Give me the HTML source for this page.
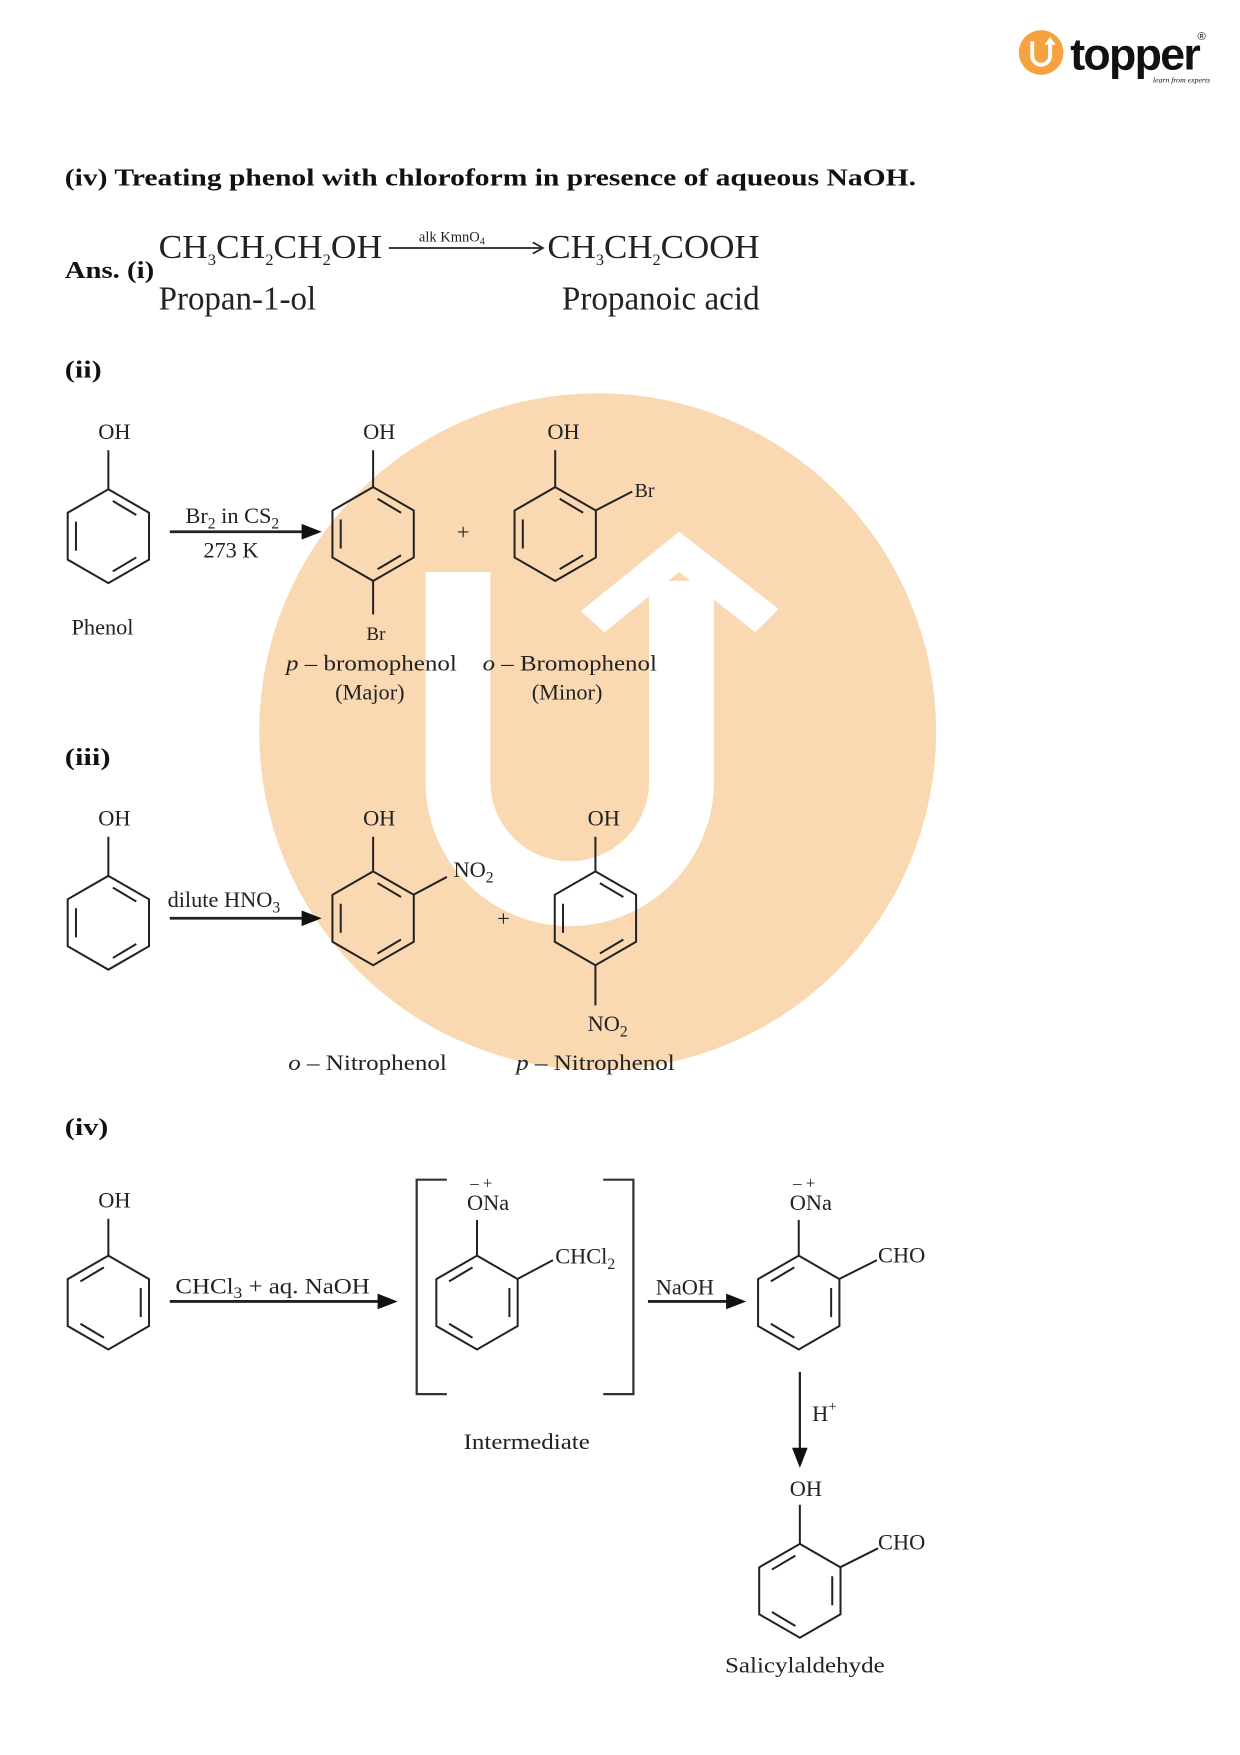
<!DOCTYPE html>
<html><head><meta charset="utf-8"><style>
html,body{margin:0;padding:0;background:#fff}
svg{display:block}
text{font-family:"Liberation Serif",serif;fill:#222}
.h{font-weight:bold;font-size:22px;fill:#111}
.c{font-size:20px}
.e{font-size:30px}
</style></head><body>
<svg width="1240" height="1755" viewBox="0 0 1110 1571" xmlns="http://www.w3.org/2000/svg">
<defs>
<g id="ra" fill="none" stroke="#222" stroke-width="1.8">
<polygon points="0,-42 36.4,-21 36.4,21 0,42 -36.4,21 -36.4,-21"/>
<line x1="4" y1="-31.5" x2="25" y2="-19"/>
<line x1="-29" y1="-13" x2="-29" y2="13"/>
<line x1="4" y1="31.5" x2="25" y2="19"/>
</g>
<g id="rb" fill="none" stroke="#222" stroke-width="1.8">
<polygon points="0,-42 36.4,-21 36.4,21 0,42 -36.4,21 -36.4,-21"/>
<line x1="-4" y1="-31.5" x2="-25" y2="-19"/>
<line x1="29" y1="-13" x2="29" y2="13"/>
<line x1="-4" y1="31.5" x2="-25" y2="19"/>
</g>
</defs>

<!-- watermark -->
<circle cx="535" cy="655" r="303" fill="#fad9b2"/>
<path d="M410 512 V700 A100 100 0 0 0 610 700 V520" fill="none" stroke="#fff" stroke-width="58"/>
<polygon points="608,476 697,545 676,566 608,512 541,566 520,547" fill="#fff"/>

<!-- logo -->
<circle cx="932" cy="47" r="20" fill="#f4a340"/>
<path d="M924 37 V50 A8 8 0 0 0 940 50 V40" fill="none" stroke="#fff" stroke-width="3.5"/>
<polygon points="940,33 945,40 935,40" fill="#fff"/>
<text x="958" y="62" style="font-family:'Liberation Sans',sans-serif;font-weight:bold;font-size:40px;fill:#111;letter-spacing:-1.5px">topper</text>
<text x="1072" y="36" style="font-family:'Liberation Sans',sans-serif;font-size:10px;fill:#111">®</text>
<text x="1032" y="74" style="font-size:7px;font-style:italic;fill:#111">learn from experts</text>

<!-- headings -->
<text class="h" x="58" y="166" textLength="762" lengthAdjust="spacingAndGlyphs">(iv) Treating phenol with chloroform in presence of aqueous NaOH.</text>
<text class="h" x="58" y="249" textLength="80" lengthAdjust="spacingAndGlyphs">Ans. (i)</text>
<text class="e" x="142" y="231" textLength="200" lengthAdjust="spacingAndGlyphs">CH<tspan font-size="14" dy="6">3</tspan><tspan dy="-6">CH</tspan><tspan font-size="14" dy="6">2</tspan><tspan dy="-6">CH</tspan><tspan font-size="14" dy="6">2</tspan><tspan dy="-6">OH</tspan></text>
<line x1="348" y1="222" x2="484" y2="222" stroke="#222" stroke-width="1.5"/>
<polyline points="477,217 486,222 477,227" fill="none" stroke="#222" stroke-width="1.5"/>
<text x="375" y="216" style="font-size:13px">alk KmnO<tspan font-size="9" dy="3">4</tspan></text>
<text class="e" x="490" y="231" textLength="190" lengthAdjust="spacingAndGlyphs">CH<tspan font-size="14" dy="6">3</tspan><tspan dy="-6">CH</tspan><tspan font-size="14" dy="6">2</tspan><tspan dy="-6">COOH</tspan></text>
<text class="e" x="142" y="277" textLength="141" lengthAdjust="spacingAndGlyphs">Propan-1-ol</text>
<text class="e" x="503" y="277" textLength="177" lengthAdjust="spacingAndGlyphs">Propanoic acid</text>

<text class="h" x="58" y="338" textLength="33" lengthAdjust="spacingAndGlyphs">(ii)</text>
<!-- (ii) -->
<use href="#ra" x="97" y="480"/>
<line x1="97" y1="438" x2="97" y2="403" stroke="#222" stroke-width="1.8"/>
<text class="c" x="88" y="393">OH</text>
<text class="c" x="64" y="568">Phenol</text>
<line x1="152" y1="476" x2="272" y2="476" stroke="#222" stroke-width="2.5"/>
<polygon points="270,469 288,476 270,483" fill="#111"/>
<text class="c" x="166" y="468">Br<tspan font-size="14" dy="5">2</tspan><tspan dy="-5"> in CS</tspan><tspan font-size="14" dy="5">2</tspan></text>
<text class="c" x="182" y="499">273 K</text>

<use href="#ra" x="334" y="478"/>
<line x1="334" y1="436" x2="334" y2="403" stroke="#222" stroke-width="1.8"/>
<text class="c" x="325" y="393">OH</text>
<line x1="334" y1="520" x2="334" y2="550" stroke="#222" stroke-width="1.8"/>
<text class="c" x="328" y="573" style="font-size:17px">Br</text>
<text class="c" x="256" y="600" textLength="153" lengthAdjust="spacingAndGlyphs"><tspan font-style="italic">p</tspan> – bromophenol</text>
<text class="c" x="300" y="626">(Major)</text>
<text class="c" x="409" y="483">+</text>

<use href="#ra" x="497" y="478"/>
<line x1="497" y1="436" x2="497" y2="403" stroke="#222" stroke-width="1.8"/>
<text class="c" x="490" y="393">OH</text>
<line x1="533" y1="457" x2="566" y2="440" stroke="#222" stroke-width="1.8"/>
<text class="c" x="568" y="445" style="font-size:18px">Br</text>
<text class="c" x="432" y="600" textLength="156" lengthAdjust="spacingAndGlyphs"><tspan font-style="italic">o</tspan> – Bromophenol</text>
<text class="c" x="476" y="626">(Minor)</text>

<text class="h" x="58" y="685" textLength="41" lengthAdjust="spacingAndGlyphs">(iii)</text>
<!-- (iii) -->
<use href="#ra" x="97" y="826"/>
<line x1="97" y1="784" x2="97" y2="749" stroke="#222" stroke-width="1.8"/>
<text class="c" x="88" y="739">OH</text>
<line x1="152" y1="822" x2="272" y2="822" stroke="#222" stroke-width="2.5"/>
<polygon points="270,815 288,822 270,829" fill="#111"/>
<text class="c" x="150" y="812">dilute HNO<tspan font-size="14" dy="5">3</tspan></text>

<use href="#rb" x="334" y="822" transform="translate(668 0) scale(-1 1)"/>
<line x1="334" y1="780" x2="334" y2="749" stroke="#222" stroke-width="1.8"/>
<text class="c" x="325" y="739">OH</text>
<line x1="370" y1="801" x2="400" y2="785" stroke="#222" stroke-width="1.8"/>
<text class="c" x="406" y="785">NO<tspan font-size="14" dy="5">2</tspan></text>
<text class="c" x="445" y="829">+</text>

<use href="#ra" x="533" y="822"/>
<line x1="533" y1="780" x2="533" y2="749" stroke="#222" stroke-width="1.8"/>
<text class="c" x="526" y="739">OH</text>
<line x1="533" y1="864" x2="533" y2="900" stroke="#222" stroke-width="1.8"/>
<text class="c" x="526" y="923">NO<tspan font-size="14" dy="5">2</tspan></text>
<text class="c" x="258" y="958" textLength="142" lengthAdjust="spacingAndGlyphs"><tspan font-style="italic">o</tspan> – Nitrophenol</text>
<text class="c" x="462" y="958" textLength="142" lengthAdjust="spacingAndGlyphs"><tspan font-style="italic">p</tspan> – Nitrophenol</text>

<text class="h" x="58" y="1016" textLength="39" lengthAdjust="spacingAndGlyphs">(iv)</text>
<!-- (iv) -->
<use href="#rb" x="97" y="1166"/>
<line x1="97" y1="1124" x2="97" y2="1091" stroke="#222" stroke-width="1.8"/>
<text class="c" x="88" y="1081">OH</text>
<line x1="152" y1="1165" x2="340" y2="1165" stroke="#222" stroke-width="2.5"/>
<polygon points="338,1158 356,1165 338,1172" fill="#111"/>
<text class="c" x="157" y="1158" textLength="174" lengthAdjust="spacingAndGlyphs">CHCl<tspan font-size="14" dy="4">3</tspan><tspan dy="-4"> + aq. NaOH</tspan></text>

<polyline points="400,1056 373,1056 373,1248 400,1248" fill="none" stroke="#333" stroke-width="2"/>
<polyline points="540,1056 567,1056 567,1248 540,1248" fill="none" stroke="#333" stroke-width="2"/>
<use href="#rb" x="427" y="1166"/>
<line x1="427" y1="1124" x2="427" y2="1092" stroke="#222" stroke-width="1.8"/>
<text class="c" x="418" y="1083">ONa</text>
<text class="c" x="421" y="1064" style="font-size:15px">– +</text>
<line x1="463" y1="1145" x2="495" y2="1128" stroke="#222" stroke-width="1.8"/>
<text class="c" x="497" y="1131">CHCl<tspan font-size="14" dy="5">2</tspan></text>
<text class="c" x="415" y="1297" textLength="113" lengthAdjust="spacingAndGlyphs">Intermediate</text>

<line x1="580" y1="1165" x2="652" y2="1165" stroke="#222" stroke-width="2.5"/>
<polygon points="650,1158 668,1165 650,1172" fill="#111"/>
<text class="c" x="587" y="1159">NaOH</text>

<use href="#rb" x="715" y="1166"/>
<line x1="715" y1="1124" x2="715" y2="1092" stroke="#222" stroke-width="1.8"/>
<text class="c" x="707" y="1083">ONa</text>
<text class="c" x="710" y="1064" style="font-size:15px">– +</text>
<line x1="751" y1="1145" x2="785" y2="1128" stroke="#222" stroke-width="1.8"/>
<text class="c" x="786" y="1130">CHO</text>

<line x1="716" y1="1228" x2="716" y2="1298" stroke="#222" stroke-width="2"/>
<polygon points="709,1296 716,1314 723,1296" fill="#111"/>
<text class="c" x="727" y="1272">H<tspan font-size="13" dy="-9">+</tspan></text>

<use href="#rb" x="716" y="1424"/>
<line x1="716" y1="1382" x2="716" y2="1347" stroke="#222" stroke-width="1.8"/>
<text class="c" x="707" y="1339">OH</text>
<line x1="752" y1="1403" x2="786" y2="1386" stroke="#222" stroke-width="1.8"/>
<text class="c" x="786" y="1387">CHO</text>
<text class="c" x="649" y="1497" textLength="143" lengthAdjust="spacingAndGlyphs">Salicylaldehyde</text>
</svg>
</body></html>
